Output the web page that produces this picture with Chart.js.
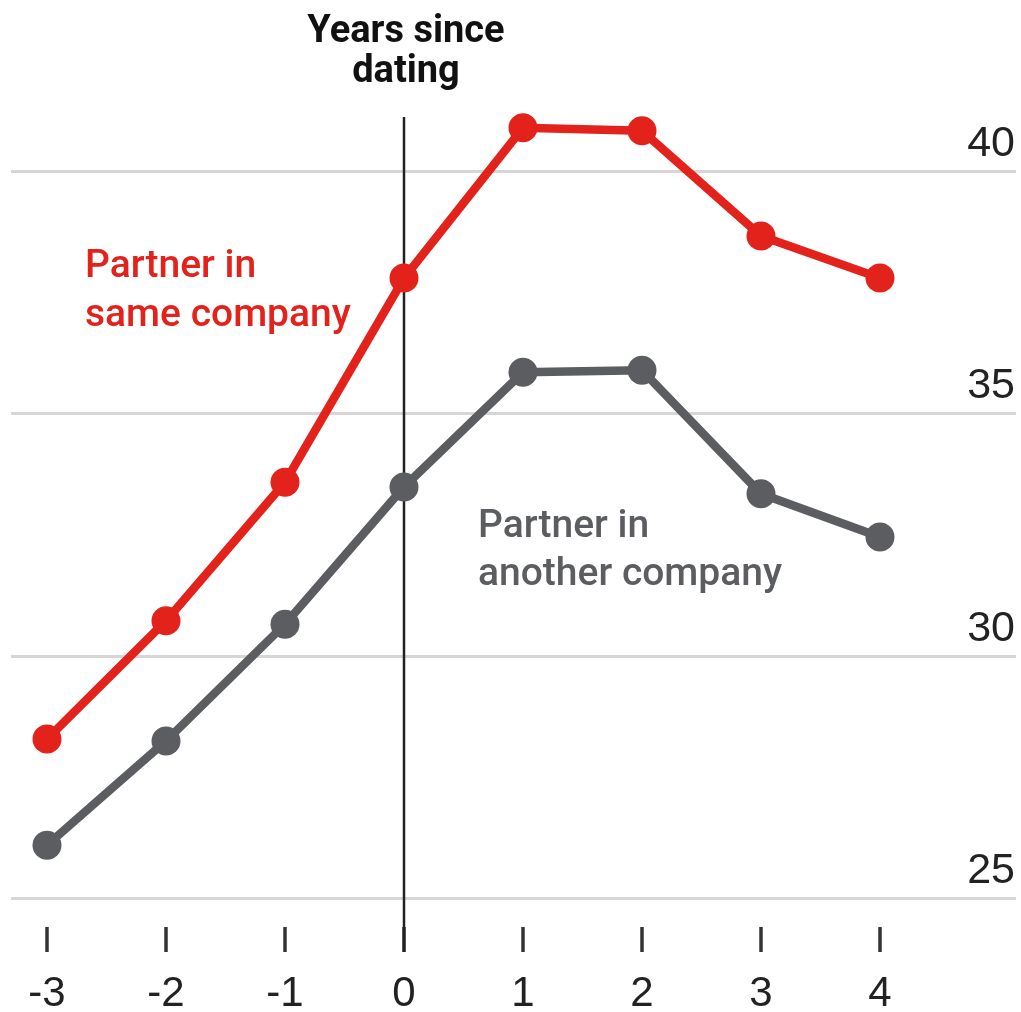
<!DOCTYPE html>
<html>
<head>
<meta charset="utf-8">
<script src="https://cdn.jsdelivr.net/npm/chart.js@4.4.1/dist/chart.umd.min.js"></script>
<style>
  html, body { margin: 0; padding: 0; background: #ffffff; }
  #wrap { width: 1021px; height: 1012px; }
</style>
</head>
<body>
<div id="wrap"><canvas id="c" width="1021" height="1012"></canvas></div>
<script>
const years = [-3, -2, -1, 0, 1, 2, 3, 4];
const sameCompany = [28.28, 30.72, 33.58, 37.79, 40.89, 40.83, 38.66, 37.79];
const anotherCompany = [26.09, 28.24, 30.65, 33.48, 35.85, 35.89, 33.34, 32.45];
const yTickValues = [25, 30, 35, 40];
const titleLines = ['Years since', 'dating'];
const sameLabel = ['Partner in', 'same company'];
const anotherLabel = ['Partner in', 'another company'];

const RED = '#e3221c';
const GREY = '#5c5d61';

const toPoints = (arr) => arr.map((v, i) => ({ x: years[i], y: v }));

const annotations = {
  id: 'annotations',
  beforeDatasetsDraw(chart) {
    const { ctx, scales: { x, y }, chartArea } = chart;
    ctx.save();
    // horizontal gridlines
    ctx.strokeStyle = '#d6d6d6';
    ctx.lineWidth = 3;
    yTickValues.forEach(v => {
      const py = Math.round(y.getPixelForValue(v)) + 0.5;
      ctx.beginPath();
      ctx.moveTo(chartArea.left, py);
      ctx.lineTo(chartArea.right, py);
      ctx.stroke();
    });
    // x tick marks
    ctx.strokeStyle = '#333333';
    ctx.lineWidth = 3.5;
    years.forEach(v => {
      const px = Math.round(x.getPixelForValue(v));
      ctx.beginPath();
      ctx.moveTo(px, chartArea.bottom);
      ctx.lineTo(px, chartArea.bottom + 25);
      ctx.stroke();
    });
    // zero line
    const x0 = Math.round(x.getPixelForValue(0));
    ctx.strokeStyle = '#222222';
    ctx.lineWidth = 2.5;
    ctx.beginPath();
    ctx.moveTo(x0, 117);
    ctx.lineTo(x0, chartArea.bottom + 25);
    ctx.stroke();
    // x tick labels
    ctx.font = '42px "Liberation Sans", Arial, sans-serif';
    ctx.fillStyle = '#222222';
    ctx.textAlign = 'center';
    ctx.textBaseline = 'alphabetic';
    years.forEach(v => {
      ctx.fillText(String(v), x.getPixelForValue(v), 1006);
    });
    ctx.restore();
  },
  afterDraw(chart) {
    const { ctx, scales: { x, y }, chartArea } = chart;
    ctx.save();
    ctx.font = '43px "Liberation Sans", Arial, sans-serif';
    ctx.fillStyle = '#222222';
    ctx.textAlign = 'right';
    ctx.textBaseline = 'alphabetic';
    yTickValues.forEach(v => {
      ctx.fillText(String(v), chartArea.right - 1, y.getPixelForValue(v) - 15);
    });
    const xc = x.getPixelForValue(0);
    ctx.font = '700 38px Roboto, "Liberation Sans", sans-serif';
    ctx.fillStyle = '#111111';
    ctx.textAlign = 'center';
    ctx.fillText(titleLines[0], xc + 2, 42);
    ctx.fillText(titleLines[1], xc + 2, 82);
    ctx.font = '500 39px Roboto, "Liberation Sans", sans-serif';
    ctx.textAlign = 'left';
    ctx.fillStyle = RED;
    ctx.fillText(sameLabel[0], 85, 277);
    ctx.fillText(sameLabel[1], 85, 326);
    ctx.fillStyle = GREY;
    ctx.fillText(anotherLabel[0], 478, 537);
    ctx.fillText(anotherLabel[1], 478, 585);
    ctx.restore();
  }
};

new Chart(document.getElementById('c'), {
  type: 'line',
  data: {
    datasets: [
      {
        label: 'Partner in another company',
        data: toPoints(anotherCompany),
        borderColor: GREY,
        backgroundColor: GREY,
        borderWidth: 8.5,
        pointRadius: 14.5,
        pointHoverRadius: 14.5,
        pointBorderWidth: 0,
        tension: 0,
        clip: false
      },
      {
        label: 'Partner in same company',
        data: toPoints(sameCompany),
        borderColor: RED,
        backgroundColor: RED,
        borderWidth: 8.5,
        pointRadius: 14.5,
        pointHoverRadius: 14.5,
        pointBorderWidth: 0,
        tension: 0,
        clip: false
      }
    ]
  },
  options: {
    responsive: false,
    animation: false,
    devicePixelRatio: 1,
    layout: { autoPadding: false, padding: { left: 11, right: 5, top: 100, bottom: 85 } },
    plugins: { legend: { display: false }, tooltip: { enabled: false } },
    scales: {
      x: {
        type: 'linear',
        display: false,
        min: -3.3025,
        max: 5.1429
      },
      y: {
        type: 'linear',
        display: false,
        min: 24.4017,
        max: 41.465
      }
    }
  },
  plugins: [annotations]
});
</script>
</body>
</html>
